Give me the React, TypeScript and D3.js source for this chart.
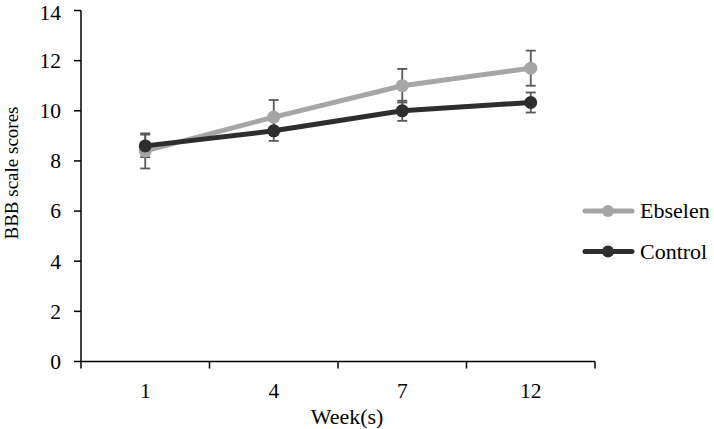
import React from "react";
import * as d3 from "d3";

const weeks = ["1", "4", "7", "12"];
const ebselenMean = [8.4, 9.75, 11.0, 11.7];
const ebselenErr = [0.7, 0.68, 0.67, 0.7];
const controlMean = [8.6, 9.2, 10.0, 10.33];
const controlErr = [0.45, 0.4, 0.4, 0.4];
const yTicks = [0, 2, 4, 6, 8, 10, 12, 14];

const series = [
  { name: "Ebselen", mean: ebselenMean, err: ebselenErr, color: "#a6a6a6" },
  { name: "Control", mean: controlMean, err: controlErr, color: "#2e2e2e" },
];

export default function App() {
  const W = 714, H = 429;
  const x = d3.scaleBand<string>().domain(weeks).range([81, 595]);
  const y = d3.scaleLinear().domain([0, 14]).range([361.5, 10.5]);
  const cx = (w: string) => (x(w) as number) + x.bandwidth() / 2;
  const font = "'Liberation Serif', 'Times New Roman', serif";
  const tickFs = 21.5;
  const line = d3
    .line<number>()
    .x((_, i) => cx(weeks[i]))
    .y((d) => y(d));
  const edges = weeks.map((w) => x(w) as number).concat([x.range()[1]]);

  return (
    <svg width={W} height={H} style={{ position: "absolute", left: 0, top: 0, background: "#fff" }}>
      {/* axes */}
      <line x1={81} x2={81} y1={y(14)} y2={y(0)} stroke="#000" strokeWidth={1.5} />
      <line x1={81} x2={595} y1={y(0)} y2={y(0)} stroke="#000" strokeWidth={1.5} />
      {yTicks.map((t) => (
        <g key={t}>
          <line x1={74} x2={81} y1={y(t)} y2={y(t)} stroke="#000" strokeWidth={1.5} />
          <text
            x={61}
            y={Math.max(y(t) + 0.34 * tickFs, 0.92 * tickFs)}
            textAnchor="end"
            fontFamily={font}
            fontSize={tickFs}
            fill="#000"
          >
            {t}
          </text>
        </g>
      ))}
      {edges.map((e, i) => (
        <line key={i} x1={e} x2={e} y1={y(0)} y2={y(0) + 7} stroke="#000" strokeWidth={1.5} />
      ))}
      {weeks.map((w) => (
        <text key={w} x={cx(w)} y={398} textAnchor="middle" fontFamily={font} fontSize={tickFs} fill="#000">
          {w}
        </text>
      ))}
      <text x={347} y={424} textAnchor="middle" fontFamily={font} fontSize={22} fill="#000">
        Week(s)
      </text>
      <text
        transform={`translate(18, ${173}) rotate(-90)`}
        textAnchor="middle"
        fontFamily={font}
        fontSize={19}
        fill="#000"
      >
        BBB scale scores
      </text>

      {/* series */}
      {series.map((s) => (
        <g key={s.name}>
          {s.mean.map((m, i) => {
            const px = cx(weeks[i]);
            return (
              <g key={i} stroke="#595959" strokeWidth={1.8}>
                <line x1={px} x2={px} y1={y(m - s.err[i])} y2={y(m + s.err[i])} />
                <line x1={px - 5} x2={px + 5} y1={y(m - s.err[i])} y2={y(m - s.err[i])} />
                <line x1={px - 5} x2={px + 5} y1={y(m + s.err[i])} y2={y(m + s.err[i])} />
              </g>
            );
          })}
        </g>
      ))}
      {series.map((s) => (
        <g key={s.name + "l"}>
          <path d={line(s.mean) || ""} fill="none" stroke={s.color} strokeWidth={5} strokeLinejoin="round" />
          {s.mean.map((m, i) => (
            <circle key={i} cx={cx(weeks[i])} cy={y(m)} r={6.5} fill={s.color} />
          ))}
        </g>
      ))}

      {/* legend */}
      {series.map((s, i) => {
        const ly = 211 + i * 40.5;
        return (
          <g key={s.name + "lg"}>
            <line x1={585} x2={632} y1={ly} y2={ly} stroke={s.color} strokeWidth={5} strokeLinecap="round" />
            <circle cx={608} cy={ly} r={6} fill={s.color} />
            <text x={640} y={ly} dy="0.34em" fontFamily={font} fontSize={22} fill="#000">
              {s.name}
            </text>
          </g>
        );
      })}
    </svg>
  );
}
